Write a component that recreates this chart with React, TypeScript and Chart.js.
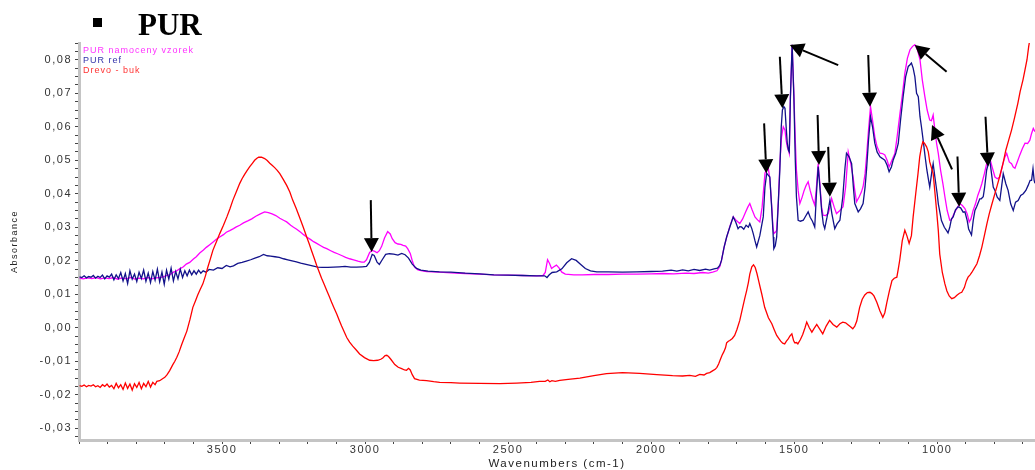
import React, { useEffect, useRef } from 'react';
import { Chart, registerables } from 'chart.js';

Chart.register(...registerables);

const chartTitle = 'PUR';
const seriesNames = ['PUR namoceny vzorek', 'PUR ref', 'Drevo - buk'];
const seriesColors = ['#ff00ff', '#12128a', '#ff0000'];
const legendColors = ['#ff33ff', '#3333aa', '#ff3333'];
const xAxisTitle = 'Wavenumbers (cm-1)';
const yAxisTitle = 'Absorbance';
const xLabelTicks = [3500, 3000, 2500, 2000, 1500, 1000];
const xRange = [658, 4000];
const yRange = [-0.0335, 0.085];

// PUR namoceny vzorek (wn, absorbance)
const wetPoints: [number, number][] = [
  [3998,0.0148],[3985,0.0146],[3970,0.0149],[3955,0.0147],[3940,0.0150],[3925,0.0146],[3910,0.0149],[3895,0.0147],[3880,0.0150],[3865,0.0145],
  [3850,0.0149],[3835,0.0146],[3820,0.0150],[3805,0.0145],[3790,0.0148],[3775,0.0146],[3760,0.0150],[3745,0.0146],[3730,0.0149],[3718,0.0150],
  [3705,0.0152],[3695,0.0156],[3683,0.0158],[3670,0.0166],[3660,0.0169],[3648,0.0176],[3635,0.0182],[3625,0.0190],[3613,0.0195],[3600,0.0205],
  [3590,0.0212],[3578,0.0223],[3565,0.0232],[3555,0.0240],[3543,0.0248],[3530,0.0257],[3520,0.0264],[3508,0.0271],[3495,0.0278],[3485,0.0285],
  [3473,0.0290],[3460,0.0296],[3450,0.0301],[3438,0.0306],[3425,0.0313],[3410,0.0319],[3396,0.0325],[3382,0.0333],[3366,0.0340],[3351,0.0346],
  [3338,0.0344],[3325,0.0340],[3312,0.0335],[3298,0.0327],[3285,0.0321],[3274,0.0316],[3260,0.0306],[3250,0.0300],[3239,0.0294],[3225,0.0285],
  [3215,0.0278],[3204,0.0271],[3190,0.0263],[3180,0.0257],[3169,0.0252],[3155,0.0245],[3145,0.0240],[3134,0.0236],[3120,0.0230],[3108,0.0225],
  [3096,0.0221],[3080,0.0215],[3068,0.0210],[3054,0.0206],[3040,0.0203],[3025,0.0199],[3012,0.0196],[3003,0.0196],[2995,0.0203],[2984,0.0225],
  [2975,0.0231],[2966,0.0228],[2958,0.0224],[2950,0.0230],[2942,0.0243],[2932,0.0268],[2921,0.0287],[2912,0.0280],[2905,0.0266],[2895,0.0254],
  [2885,0.0250],[2875,0.0249],[2867,0.0246],[2858,0.0244],[2851,0.0236],[2842,0.0222],[2835,0.0200],[2827,0.0181],[2815,0.0173],[2800,0.0170],
  [2785,0.0168],[2740,0.0166],[2700,0.0164],[2650,0.0162],[2600,0.0160],[2550,0.0158],[2500,0.0157],[2450,0.0156],[2400,0.0155],[2378,0.0156],
  [2370,0.0165],[2362,0.0203],[2355,0.0192],[2348,0.0177],[2340,0.0182],[2331,0.0187],[2322,0.0179],[2312,0.0166],[2300,0.0160],[2270,0.0158],
  [2240,0.0158],[2200,0.0159],[2150,0.0159],[2100,0.0160],[2050,0.0160],[2000,0.0161],[1960,0.0162],[1920,0.0161],[1880,0.0163],[1850,0.0162],
  [1820,0.0165],[1800,0.0163],[1785,0.0166],[1770,0.0170],[1760,0.0182],[1754,0.0201],[1745,0.0240],[1736,0.0270],[1725,0.0302],[1713,0.0331],
  [1702,0.0320],[1690,0.0311],[1680,0.0325],[1670,0.0345],[1662,0.0360],[1655,0.0371],[1647,0.0352],[1637,0.0331],[1628,0.0322],[1620,0.0316],
  [1612,0.0360],[1602,0.0461],[1596,0.0475],[1591,0.0480],[1585,0.0445],[1579,0.0371],[1574,0.0300],[1571,0.0281],[1566,0.0285],[1561,0.0291],
  [1555,0.0380],[1550,0.0490],[1544,0.0570],[1538,0.0600],[1532,0.0590],[1528,0.0560],[1524,0.0540],[1520,0.0530],[1517,0.0520],[1513,0.0690],
  [1507,0.0845],[1501,0.0700],[1496,0.0560],[1492,0.0471],[1486,0.0410],[1480,0.0371],[1472,0.0390],[1465,0.0410],[1458,0.0425],[1451,0.0436],
  [1444,0.0410],[1436,0.0385],[1428,0.0366],[1422,0.0420],[1416,0.0490],[1410,0.0430],[1404,0.0360],[1399,0.0336],[1390,0.0335],[1381,0.0341],
  [1375,0.0360],[1369,0.0386],[1360,0.0360],[1352,0.0341],[1340,0.0350],[1329,0.0361],[1320,0.0420],[1311,0.0525],[1302,0.0490],[1294,0.0450],
  [1288,0.0410],[1282,0.0376],[1272,0.0392],[1265,0.0405],[1259,0.0421],[1252,0.0460],[1247,0.0510],[1240,0.0590],[1233,0.0660],[1226,0.0620],
  [1218,0.0570],[1210,0.0540],[1200,0.0521],[1191,0.0520],[1183,0.0516],[1175,0.0500],[1168,0.0480],[1158,0.0500],[1148,0.0520],[1140,0.0570],
  [1130,0.0640],[1121,0.0700],[1113,0.0760],[1104,0.0805],[1095,0.0830],[1086,0.0840],[1078,0.0845],[1069,0.0830],[1060,0.0800],[1052,0.0740],
  [1043,0.0690],[1035,0.0650],[1026,0.0620],[1020,0.0618],[1014,0.0635],[1008,0.0590],[1002,0.0550],[996,0.0520],[988,0.0470],[980,0.0430],
  [973,0.0391],[965,0.0350],[956,0.0321],[950,0.0322],[944,0.0335],[938,0.0346],[930,0.0358],[921,0.0371],[912,0.0365],[903,0.0356],
  [895,0.0340],[888,0.0316],[882,0.0325],[874,0.0351],[866,0.0370],[858,0.0395],[851,0.0411],[844,0.0430],[835,0.0460],[827,0.0490],
  [821,0.0500],[816,0.0506],[808,0.0480],[798,0.0450],[790,0.0445],[781,0.0450],[770,0.0490],[763,0.0510],[757,0.0521],[748,0.0495],
  [740,0.0490],[734,0.0480],[728,0.0476],[720,0.0495],[711,0.0516],[702,0.0535],[693,0.0551],[684,0.0550],[676,0.0560],[670,0.0580],
  [664,0.0595],[658,0.0585]
];

// PUR ref (wn, absorbance)
const refPoints: [number, number][] = [
  [3998,0.0152],[3990,0.0150],[3982,0.0155],[3974,0.0149],[3966,0.0153],[3958,0.0151],[3950,0.0156],[3942,0.0148],[3934,0.0154],[3926,0.0150],
  [3918,0.0157],[3910,0.0146],[3902,0.0155],[3894,0.0151],[3886,0.0160],[3878,0.0143],[3870,0.0158],[3862,0.0147],[3854,0.0165],[3846,0.0140],
  [3838,0.0162],[3830,0.0132],[3822,0.0170],[3814,0.0145],[3806,0.0160],[3798,0.0138],[3790,0.0166],[3782,0.0147],[3774,0.0172],[3766,0.0139],
  [3758,0.0163],[3750,0.0135],[3742,0.0168],[3734,0.0142],[3726,0.0175],[3718,0.0137],[3710,0.0166],[3702,0.0130],[3694,0.0172],[3686,0.0145],
  [3678,0.0178],[3670,0.0140],[3662,0.0168],[3654,0.0146],[3646,0.0175],[3638,0.0150],[3630,0.0170],[3622,0.0155],[3614,0.0172],[3606,0.0158],
  [3598,0.0170],[3590,0.0160],[3582,0.0172],[3574,0.0163],[3566,0.0170],[3556,0.0166],[3545,0.0174],[3530,0.0172],[3515,0.0179],[3500,0.0177],
  [3485,0.0186],[3472,0.0182],[3460,0.0185],[3445,0.0192],[3430,0.0195],[3415,0.0199],[3400,0.0203],[3385,0.0208],[3370,0.0212],[3355,0.0219],
  [3342,0.0215],[3330,0.0214],[3315,0.0212],[3300,0.0210],[3285,0.0206],[3270,0.0203],[3255,0.0200],[3240,0.0197],[3225,0.0193],[3210,0.0190],
  [3195,0.0187],[3180,0.0184],[3165,0.0181],[3150,0.0180],[3130,0.0180],[3110,0.0181],[3090,0.0182],[3070,0.0183],[3050,0.0181],[3030,0.0181],
  [3010,0.0182],[2995,0.0183],[2985,0.0195],[2975,0.0219],[2968,0.0216],[2958,0.0196],[2950,0.0189],[2940,0.0203],[2928,0.0219],[2915,0.0221],
  [2900,0.0220],[2885,0.0217],[2872,0.0222],[2860,0.0218],[2848,0.0208],[2835,0.0190],[2820,0.0177],[2805,0.0172],[2780,0.0169],[2740,0.0167],
  [2700,0.0166],[2650,0.0163],[2600,0.0161],[2550,0.0158],[2500,0.0157],[2450,0.0156],[2400,0.0155],[2372,0.0155],[2364,0.0150],[2356,0.0158],
  [2346,0.0165],[2330,0.0167],[2312,0.0176],[2295,0.0194],[2278,0.0206],[2262,0.0201],[2246,0.0189],[2230,0.0177],[2212,0.0170],[2190,0.0167],
  [2150,0.0167],[2100,0.0166],[2050,0.0167],[2000,0.0168],[1960,0.0169],[1930,0.0172],[1910,0.0169],[1890,0.0173],[1870,0.0170],[1850,0.0174],
  [1830,0.0171],[1810,0.0175],[1795,0.0172],[1780,0.0176],[1768,0.0178],[1760,0.0186],[1754,0.0201],[1745,0.0240],[1736,0.0271],[1725,0.0300],
  [1713,0.0331],[1704,0.0315],[1696,0.0296],[1690,0.0302],[1684,0.0301],[1676,0.0294],[1668,0.0306],[1660,0.0300],[1655,0.0311],[1648,0.0296],
  [1643,0.0281],[1637,0.0260],[1631,0.0241],[1620,0.0275],[1608,0.0331],[1602,0.0420],[1596,0.0461],[1590,0.0455],[1585,0.0450],[1578,0.0350],
  [1573,0.0271],[1571,0.0236],[1566,0.0245],[1561,0.0271],[1555,0.0380],[1550,0.0471],[1545,0.0600],[1541,0.0650],[1536,0.0660],[1532,0.0655],
  [1528,0.0600],[1524,0.0551],[1520,0.0530],[1517,0.0525],[1513,0.0690],[1507,0.0845],[1501,0.0690],[1496,0.0500],[1492,0.0391],[1486,0.0321],
  [1478,0.0318],[1468,0.0321],[1460,0.0333],[1451,0.0346],[1444,0.0330],[1436,0.0318],[1428,0.0301],[1422,0.0400],[1416,0.0481],[1410,0.0420],
  [1404,0.0351],[1398,0.0310],[1393,0.0296],[1385,0.0330],[1375,0.0381],[1368,0.0340],[1358,0.0296],[1350,0.0310],[1340,0.0321],[1330,0.0390],
  [1322,0.0480],[1317,0.0521],[1308,0.0510],[1299,0.0490],[1293,0.0420],[1288,0.0371],[1276,0.0346],[1268,0.0355],[1259,0.0371],[1252,0.0420],
  [1247,0.0471],[1240,0.0560],[1233,0.0630],[1226,0.0600],[1218,0.0551],[1210,0.0525],[1200,0.0510],[1191,0.0505],[1183,0.0500],[1175,0.0485],
  [1168,0.0466],[1160,0.0480],[1154,0.0500],[1145,0.0520],[1136,0.0550],[1128,0.0620],[1119,0.0690],[1110,0.0750],[1101,0.0780],[1095,0.0785],
  [1090,0.0790],[1084,0.0775],[1078,0.0750],[1072,0.0700],[1066,0.0690],[1060,0.0630],[1055,0.0600],[1049,0.0560],[1042,0.0510],[1036,0.0471],
  [1031,0.0445],[1026,0.0420],[1018,0.0470],[1014,0.0490],[1008,0.0450],[1000,0.0400],[996,0.0370],[985,0.0320],[975,0.0300],[967,0.0290],
  [962,0.0283],[956,0.0300],[950,0.0325],[944,0.0331],[936,0.0352],[927,0.0361],[918,0.0358],[909,0.0345],[903,0.0346],[895,0.0320],
  [890,0.0295],[880,0.0277],[874,0.0320],[868,0.0350],[862,0.0361],[851,0.0385],[846,0.0385],[839,0.0391],[834,0.0420],[827,0.0471],
  [821,0.0490],[816,0.0500],[810,0.0460],[804,0.0420],[798,0.0410],[790,0.0390],[781,0.0380],[775,0.0420],[769,0.0460],[760,0.0430],
  [752,0.0410],[743,0.0370],[734,0.0350],[726,0.0375],[717,0.0380],[708,0.0395],[699,0.0400],[690,0.0410],[682,0.0425],[675,0.0440],
  [670,0.0440],[665,0.0475],[661,0.0440],[658,0.0431]
];

// Drevo - buk (wn, absorbance)
const woodPoints: [number, number][] = [
  [3998,-0.0173],[3990,-0.0175],[3982,-0.0171],[3974,-0.0176],[3966,-0.0172],[3958,-0.0174],[3950,-0.0170],[3942,-0.0176],[3934,-0.0173],[3926,-0.0178],
  [3918,-0.0170],[3910,-0.0175],[3902,-0.0168],[3894,-0.0177],[3886,-0.0172],[3878,-0.0182],[3870,-0.0166],[3862,-0.0179],[3854,-0.0170],[3846,-0.0184],
  [3838,-0.0165],[3830,-0.0181],[3822,-0.0168],[3814,-0.0186],[3806,-0.0167],[3798,-0.0178],[3790,-0.0163],[3782,-0.0182],[3774,-0.0166],[3766,-0.0176],
  [3758,-0.0160],[3750,-0.0177],[3742,-0.0163],[3734,-0.0170],[3728,-0.0160],[3718,-0.0158],[3708,-0.0152],[3700,-0.0148],[3692,-0.0140],[3683,-0.0128],
  [3672,-0.0110],[3665,-0.0100],[3658,-0.0088],[3650,-0.0072],[3641,-0.0050],[3632,-0.0030],[3623,-0.0010],[3612,0.0025],[3602,0.0061],[3593,0.0080],
  [3585,0.0098],[3576,0.0115],[3567,0.0131],[3558,0.0155],[3550,0.0180],[3541,0.0205],[3532,0.0231],[3520,0.0256],[3508,0.0281],[3495,0.0306],
  [3483,0.0331],[3472,0.0356],[3462,0.0381],[3450,0.0406],[3438,0.0431],[3430,0.0445],[3421,0.0458],[3412,0.0470],[3403,0.0481],[3394,0.0491],
  [3386,0.0500],[3378,0.0506],[3372,0.0509],[3362,0.0509],[3351,0.0505],[3342,0.0499],[3333,0.0491],[3325,0.0485],[3316,0.0478],[3307,0.0470],
  [3298,0.0460],[3286,0.0443],[3274,0.0425],[3263,0.0405],[3253,0.0381],[3241,0.0357],[3229,0.0330],[3216,0.0300],[3204,0.0271],[3195,0.0250],
  [3187,0.0230],[3178,0.0208],[3169,0.0186],[3160,0.0166],[3152,0.0148],[3143,0.0130],[3134,0.0111],[3125,0.0093],[3117,0.0076],[3108,0.0058],
  [3099,0.0041],[3090,0.0022],[3082,0.0005],[3073,-0.0012],[3064,-0.0029],[3054,-0.0043],[3043,-0.0055],[3030,-0.0067],[3019,-0.0078],[3002,-0.0089],
  [2984,-0.0097],[2970,-0.0098],[2956,-0.0097],[2945,-0.0094],[2938,-0.0090],[2930,-0.0083],[2924,-0.0082],[2918,-0.0086],[2910,-0.0094],[2896,-0.0110],
  [2884,-0.0118],[2872,-0.0122],[2862,-0.0126],[2855,-0.0127],[2848,-0.0121],[2842,-0.0126],[2835,-0.0140],[2827,-0.0152],[2810,-0.0156],[2785,-0.0158],
  [2760,-0.0161],[2739,-0.0163],[2700,-0.0164],[2669,-0.0165],[2600,-0.0166],[2529,-0.0167],[2470,-0.0165],[2420,-0.0163],[2390,-0.0160],[2370,-0.0160],
  [2361,-0.0156],[2354,-0.0161],[2347,-0.0158],[2335,-0.0160],[2319,-0.0157],[2290,-0.0154],[2249,-0.0150],[2200,-0.0143],[2156,-0.0137],[2100,-0.0134],
  [2040,-0.0136],[1980,-0.0140],[1925,-0.0143],[1890,-0.0144],[1865,-0.0142],[1845,-0.0145],[1830,-0.0139],[1815,-0.0141],[1806,-0.0136],[1795,-0.0134],
  [1784,-0.0128],[1776,-0.0124],[1770,-0.0118],[1764,-0.0108],[1758,-0.0095],[1752,-0.0082],[1746,-0.0072],[1740,-0.0060],[1736,-0.0045],[1730,-0.0040],
  [1725,-0.0038],[1716,-0.0032],[1708,-0.0023],[1700,-0.0005],[1690,0.0022],[1680,0.0060],[1672,0.0090],[1666,0.0111],[1660,0.0135],[1655,0.0160],
  [1648,0.0182],[1642,0.0188],[1636,0.0180],[1630,0.0162],[1624,0.0140],[1618,0.0118],[1613,0.0100],[1603,0.0061],[1590,0.0030],[1578,0.0012],
  [1570,-0.0005],[1561,-0.0023],[1552,-0.0034],[1547,-0.0040],[1540,-0.0046],[1533,-0.0048],[1527,-0.0040],[1522,-0.0035],[1515,-0.0025],[1508,-0.0018],
  [1502,-0.0038],[1498,-0.0045],[1492,-0.0044],[1487,-0.0048],[1478,-0.0035],[1470,-0.0020],[1462,0.0000],[1456,0.0017],[1447,0.0000],[1438,-0.0013],
  [1430,-0.0002],[1421,0.0010],[1410,-0.0005],[1400,-0.0018],[1388,0.0005],[1376,0.0022],[1364,0.0010],[1351,0.0002],[1340,0.0012],[1330,0.0017],
  [1320,0.0015],[1313,0.0010],[1303,0.0003],[1295,-0.0003],[1288,0.0005],[1281,0.0020],[1271,0.0061],[1262,0.0085],[1253,0.0098],[1244,0.0105],
  [1235,0.0106],[1228,0.0102],[1221,0.0095],[1211,0.0076],[1200,0.0050],[1190,0.0031],[1183,0.0045],[1176,0.0075],[1167,0.0110],[1158,0.0141],
  [1150,0.0148],[1141,0.0151],[1136,0.0175],[1131,0.0201],[1122,0.0260],[1113,0.0291],[1106,0.0275],[1098,0.0252],[1090,0.0275],[1084,0.0331],
  [1075,0.0400],[1067,0.0460],[1061,0.0510],[1055,0.0540],[1050,0.0555],[1044,0.0550],[1037,0.0540],[1031,0.0525],[1026,0.0495],[1014,0.0460],
  [1002,0.0350],[996,0.0290],[991,0.0220],[982,0.0165],[973,0.0131],[966,0.0110],[958,0.0095],[949,0.0087],[940,0.0090],[931,0.0097],
  [922,0.0103],[914,0.0106],[905,0.0120],[898,0.0140],[892,0.0151],[885,0.0158],[879,0.0165],[870,0.0178],[861,0.0191],[852,0.0215],
  [844,0.0240],[835,0.0275],[826,0.0311],[818,0.0340],[810,0.0365],[798,0.0401],[790,0.0425],[782,0.0450],[770,0.0490],[760,0.0530],
  [750,0.0560],[740,0.0590],[730,0.0625],[718,0.0670],[710,0.0705],[700,0.0740],[693,0.0770],[686,0.0800],[680,0.0840],[672,0.0880],
  [665,0.0910],[658,0.0940]
];

// Annotation arrows: [tail wn, tail abs, tip wn, tip abs]
const arrows: [number, number, number, number][] = [
  [2980, 0.0381, 2977, 0.0226],
  [1605, 0.0610, 1597, 0.0461],
  [1550, 0.0809, 1541, 0.0655],
  [1346, 0.0784, 1515, 0.0844],
  [1418, 0.0635, 1413, 0.0486],
  [1381, 0.0540, 1375, 0.0391],
  [1241, 0.0814, 1235, 0.0660],
  [967, 0.0764, 1078, 0.0844],
  [948, 0.0473, 1018, 0.0605],
  [929, 0.0511, 923, 0.0361],
  [831, 0.0630, 822, 0.0481]
];

const FONT = "'Liberation Sans', Arial, sans-serif";

const decorPlugin = {
  id: 'decor',
  beforeDraw(chart: any) {
    (chart.ctx as any).letterSpacing = '1.5px';
  },
  afterDatasetsDraw(chart: any) {
    const { ctx, scales } = chart;
    const xs = scales.x;
    const ys = scales.y;
    ctx.save();
    ctx.fillStyle = '#000';
    ctx.strokeStyle = '#000';
    ctx.lineWidth = 2;
    for (const [tw, ta, hw, ha] of arrows) {
      const x1 = xs.getPixelForValue(tw);
      const y1 = ys.getPixelForValue(ta);
      const x2 = xs.getPixelForValue(hw);
      const y2 = ys.getPixelForValue(ha);
      const ang = Math.atan2(y2 - y1, x2 - x1);
      const L = 14;
      const W = 7.5;
      const bx = x2 - L * Math.cos(ang);
      const by = y2 - L * Math.sin(ang);
      ctx.beginPath();
      ctx.moveTo(x1, y1);
      ctx.lineTo(bx, by);
      ctx.stroke();
      ctx.beginPath();
      ctx.moveTo(x2, y2);
      ctx.lineTo(bx + W * Math.sin(ang), by - W * Math.cos(ang));
      ctx.lineTo(bx - W * Math.sin(ang), by + W * Math.cos(ang));
      ctx.closePath();
      ctx.fill();
    }
    ctx.restore();
  },
  afterDraw(chart: any) {
    const { ctx, chartArea } = chart;
    ctx.save();
    // legend
    (ctx as any).letterSpacing = '1px';
    ctx.font = `9px ${FONT}`;
    ctx.textAlign = 'left';
    ctx.textBaseline = 'middle';
    seriesNames.forEach((name, i) => {
      ctx.fillStyle = legendColors[i];
      ctx.fillText(name, chartArea.left + 4, 51 + i * 10);
    });
    // title with bullet
    (ctx as any).letterSpacing = '0px';
    ctx.fillStyle = '#000';
    ctx.fillRect(93, 18, 9, 9);
    ctx.font = `bold 31px 'Liberation Serif', 'Times New Roman', serif`;
    ctx.textBaseline = 'alphabetic';
    ctx.fillText(chartTitle, 138, 35);
    ctx.restore();
  }
};

export default function App() {
  const canvasRef = useRef<HTMLCanvasElement | null>(null);

  useEffect(() => {
    const canvas = canvasRef.current;
    if (!canvas) return;
    const allPoints = [wetPoints, refPoints, woodPoints];
    const orders = [2, 1, 0];
    const chart = new Chart(canvas, {
      type: 'line',
      data: {
        datasets: allPoints.map((pts, i) => ({
          label: seriesNames[i],
          data: pts.map(([x, y]) => ({ x, y })),
          borderColor: seriesColors[i],
          backgroundColor: seriesColors[i],
          borderWidth: 1.3,
          pointRadius: 0,
          tension: 0,
          fill: false,
          order: orders[i]
        }))
      },
      options: {
        responsive: false,
        maintainAspectRatio: false,
        animation: false,
        devicePixelRatio: 1,
        layout: { padding: { top: 43, left: 0, right: 0, bottom: 0 } },
        plugins: {
          legend: { display: false },
          tooltip: { enabled: false },
          title: { display: false }
        },
        scales: {
          x: {
            type: 'linear',
            reverse: true,
            min: xRange[0],
            max: xRange[1],
            afterBuildTicks: (scale: any) => {
              const t: { value: number }[] = [];
              for (let v = 700; v <= 4000; v += 100) t.push({ value: v });
              scale.ticks = t;
            },
            afterFit: (scale: any) => {
              scale.height = 30;
            },
            ticks: {
              autoSkip: false,
              maxRotation: 0,
              padding: 0,
              color: '#333',
              font: { family: FONT, size: 11, lineHeight: 1 },
              callback: (v: any) => (xLabelTicks.includes(Number(v)) ? String(v) : '')
            },
            grid: { drawOnChartArea: false, drawTicks: true, tickLength: 4, tickColor: '#444', tickWidth: 1 },
            border: { display: true, color: '#c4c4c4', width: 3 },
            title: {
              display: true,
              text: xAxisTitle,
              color: '#222',
              padding: { top: 0, bottom: 0 },
              font: { family: FONT, size: 11.5, lineHeight: 1 }
            }
          },
          y: {
            type: 'linear',
            min: yRange[0],
            max: yRange[1],
            afterBuildTicks: (scale: any) => {
              const t: { value: number }[] = [];
              for (let k = -13; k <= 34; k++) t.push({ value: k * 0.0025 });
              scale.ticks = t;
            },
            afterFit: (scale: any) => {
              scale.width = 79;
            },
            ticks: {
              autoSkip: false,
              padding: 3,
              color: '#333',
              font: { family: FONT, size: 11, lineHeight: 1 },
              callback: (v: any) => {
                const k = Math.round(Number(v) * 400);
                if (k % 4 !== 0) return '';
                return (k / 400).toFixed(2).replace('.', ',');
              }
            },
            grid: { drawOnChartArea: false, drawTicks: true, tickLength: 4, tickColor: '#444', tickWidth: 1 },
            border: { display: true, color: '#c4c4c4', width: 3 },
            title: {
              display: true,
              text: yAxisTitle,
              color: '#222',
              padding: { top: 10.5, bottom: 0 },
              font: { family: FONT, size: 9, lineHeight: 1 }
            }
          }
        }
      },
      plugins: [decorPlugin]
    } as any);
    return () => {
      chart.destroy();
    };
  }, []);

  return (
    <div style={{ position: 'fixed', left: 0, top: 0, width: 1035, height: 470, background: '#fff' }}>
      <canvas ref={canvasRef} width={1035} height={470} style={{ display: 'block' }} />
    </div>
  );
}
